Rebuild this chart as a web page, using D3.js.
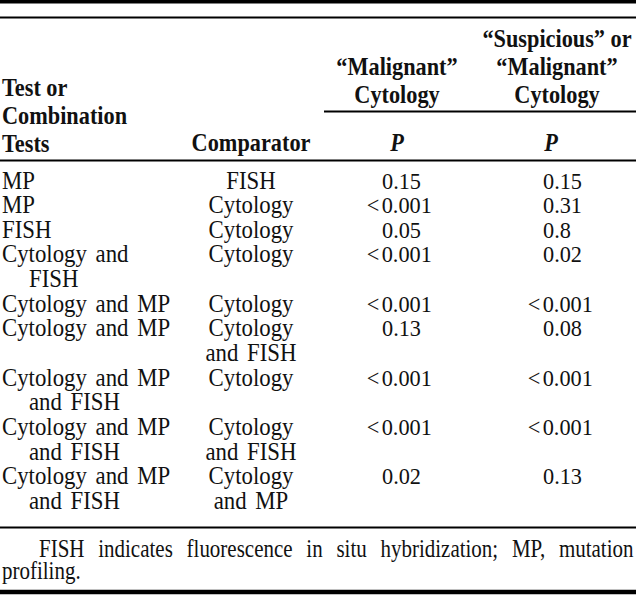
<!DOCTYPE html>
<html><head><meta charset="utf-8">
<script src="https://cdn.jsdelivr.net/npm/d3@7"></script>
<style>
html,body{margin:0;padding:0;background:#fff;}
svg{display:block;}
</style></head>
<body>
<div id="chart"></div>
<script>
// ---- data ----
const testHeader = ["Test or", "Combination", "Tests"];
const comparatorHeader = ["Comparator"];
const malignantHeader = ["\u201CMalignant\u201D", "Cytology"];
const suspiciousHeader = ["\u201CSuspicious\u201D or", "\u201CMalignant\u201D", "Cytology"];
const statHeader = "P";
const tests = [["MP"], ["MP"], ["FISH"], ["Cytology and", "FISH"], ["Cytology and MP"], ["Cytology and MP"],
  ["Cytology and MP", "and FISH"], ["Cytology and MP", "and FISH"], ["Cytology and MP", "and FISH"]];
const comparators = [["FISH"], ["Cytology"], ["Cytology"], ["Cytology"], ["Cytology"], ["Cytology", "and FISH"],
  ["Cytology"], ["Cytology", "and FISH"], ["Cytology", "and MP"]];
const pMalignant = ["0.15", "<0.001", "0.05", "<0.001", "<0.001", "0.13", "<0.001", "<0.001", "0.02"];
const pSuspicious = ["0.15", "0.31", "0.8", "0.02", "<0.001", "0.08", "<0.001", "<0.001", "0.13"];
const footnoteLines = ["FISH indicates fluorescence in situ hybridization; MP, mutation", "profiling."];

// ---- layout ----
const W = 636, H = 602;
const FONT = "'Liberation Serif','Times New Roman',serif";
const SY_HEAD = 1.12, SY_BODY = 1.08, SY_FOOT = 1.15;
const svg = d3.select("#chart").append("svg").attr("width", W).attr("height", H);

// columns
const colX = d3.scaleOrdinal().domain(["test", "comp", "mal", "sus"]).range([2, 251, 382, 543]);
const colHead = d3.scaleOrdinal().domain(["mal", "sus"]).range([397, 557]);
const colP = d3.scaleOrdinal().domain(["mal", "sus"]).range([397, 551]);
const indent = 27;

// rows: compute line offsets
let lineIdx = 0;
const rows = tests.map((t, i) => {
  const n = Math.max(t.length, comparators[i].length);
  const r = {start: lineIdx, test: t, comp: comparators[i], mal: pMalignant[i], sus: pSuspicious[i]};
  lineIdx += n;
  return r;
});
const y = d3.scaleLinear().domain([0, lineIdx - 1]).range([188.5, 509]);

function place(sel, fx, fy, sy) {
  sel.attr("transform", (d, i) => `translate(${fx(d, i)},${fy(d, i)}) scale(1,${sy})`);
}

// rules
function rule(y0, x0, x1, w) {
  svg.append("line").attr("x1", x0).attr("x2", x1).attr("y1", y0).attr("y2", y0)
    .attr("stroke", "#000").attr("stroke-width", w);
}
rule(1.8, 0, W, 3.6);
rule(17.5, 0, W, 2);
rule(111.5, 324, W, 2);
rule(160.5, 0, W, 2);
rule(527.5, 0, W, 2);
rule(592, 0, W, 4.5);

// header
const hy = d3.scaleLinear().domain([0, 1]).range([47, 74.8]);
const hb = svg.append("g").attr("font-family", FONT).attr("font-weight", "bold").attr("font-size", 22.3).attr("fill", "#111");
hb.selectAll("text.th").data(testHeader).join("text").attr("class", "th")
  .call(place, () => colX("test"), (d, i) => hy(i + 1.78), SY_HEAD).text(d => d);
hb.selectAll("text.ch").data(comparatorHeader).join("text").attr("class", "ch")
  .attr("text-anchor", "middle").call(place, () => colX("comp"), () => hy(3.73), SY_HEAD).text(d => d);
hb.selectAll("text.mh").data(malignantHeader).join("text").attr("class", "mh")
  .attr("text-anchor", "middle").call(place, () => colHead("mal"), (d, i) => hy(i + 1), SY_HEAD).text(d => d);
hb.selectAll("text.sh").data(suspiciousHeader).join("text").attr("class", "sh")
  .attr("text-anchor", "middle").call(place, () => colHead("sus"), (d, i) => hy(i), SY_HEAD).text(d => d);
hb.selectAll("text.ph").data(["mal", "sus"]).join("text").attr("class", "ph")
  .attr("text-anchor", "middle").call(place, d => colP(d), () => hy(3.73), SY_HEAD)
  .attr("font-style", "italic").text(statHeader);

// body
const body = svg.append("g").attr("font-family", FONT).attr("font-size", 22.8).attr("fill", "#111");
const rg = body.selectAll("g.row").data(rows).join("g").attr("class", "row");
rg.selectAll("text.t").data(d => d.test.map((s, k) => ({s, line: d.start + k, k}))).join("text").attr("class", "t")
  .attr("word-spacing", 3)
  .call(place, d => colX("test") + (d.k > 0 ? indent : 0), d => y(d.line), SY_BODY).text(d => d.s);
rg.selectAll("text.c").data(d => d.comp.map((s, k) => ({s, line: d.start + k}))).join("text").attr("class", "c")
  .attr("word-spacing", 3)
  .attr("text-anchor", "middle").call(place, () => colX("comp"), d => y(d.line), SY_BODY).text(d => d.s);
function pval(sel, key) {
  sel.each(function(d) {
    const t = d3.select(this);
    const v = d[key];
    let shift = 0;
    if (v.startsWith("<")) {
      const lt = t.append("tspan").text("<");
      t.append("tspan").attr("dx", 2.5).text(v.slice(1));
      shift = lt.node().getComputedTextLength() + 2.5;
    } else t.text(v);
    t.attr("font-size", 22.3)
     .attr("transform", `translate(${colX(key) - shift},${y(d.start)}) scale(1,${SY_BODY})`);
  });
}
rg.append("text").call(pval, "mal");
rg.append("text").call(pval, "sus");

// footnote (justified first line)
const fg = svg.append("g").attr("font-family", FONT).attr("font-size", 21).attr("fill", "#111");
const fx0 = 39, fx1 = 634;
const fys = [556.5, 578.5];
const fl = fg.selectAll("text.fn").data(footnoteLines).join("text").attr("class", "fn").text(d => d);
fl.each(function(d, i) {
  const t = d3.select(this);
  if (i === 0) {
    const natural = this.getComputedTextLength();
    const gaps = d.split(" ").length - 1;
    t.attr("word-spacing", (fx1 - fx0 - natural) / gaps);
  }
});
fl.call(place, (d, i) => i === 0 ? fx0 : 2, (d, i) => fys[i], SY_FOOT);
</script>
</body></html>
